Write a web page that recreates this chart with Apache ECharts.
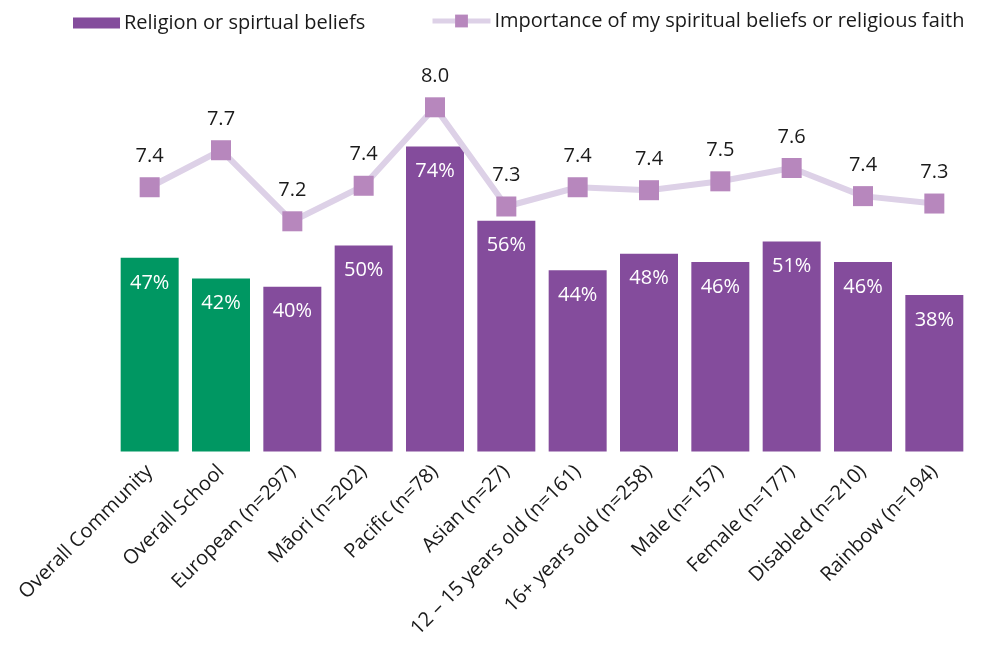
<!DOCTYPE html>
<html>
<head>
<meta charset="utf-8">
<script src="https://cdn.jsdelivr.net/npm/echarts@6/dist/echarts.min.js"></script>
<style>
  html, body { margin: 0; padding: 0; background: #ffffff; }
  #chart { width: 991px; height: 652px; }
</style>
</head>
<body>
<div id="chart"></div>
<script>
// Survey groups shown along the x axis
const categories = [
  'Overall Community', 'Overall School', 'European (n=297)', 'Māori (n=202)',
  'Pacific (n=78)', 'Asian (n=27)', '12 – 15 years old (n=161)', '16+ years old (n=258)',
  'Male (n=157)', 'Female (n=177)', 'Disabled (n=210)', 'Rainbow (n=194)'
];
// Share who named religion or spiritual beliefs (%)
const religionShare = [47, 42, 40, 50, 74, 56, 44, 48, 46, 51, 46, 38];
// Mean importance score (0–10 scale)
const importanceScore = [7.43, 7.68, 7.20, 7.44, 7.97, 7.30, 7.43, 7.41, 7.47, 7.56, 7.37, 7.32];

const barName = 'Religion or spirtual beliefs';
const lineName = 'Importance of my spiritual beliefs or religious faith';

const FONT = 'Open Sans';
const GREEN = '#009762';
const PURPLE = '#844C9C';
const LINE = '#DDD1E7';
const MARKER = '#B787BD';
const TEXT = '#1a1a1a';

const isOverall = (i) => categories[i].startsWith('Overall');

const chart = echarts.init(document.getElementById('chart'), null, { renderer: 'canvas' });

chart.setOption({
  animation: false,
  textStyle: { fontFamily: FONT },
  legend: [
    {
      data: [{ name: barName, icon: 'rect', itemStyle: { color: PURPLE } }],
      left: 73, top: 13, padding: 0,
      itemWidth: 47, itemHeight: 11, itemGap: 0,
      textStyle: { fontFamily: FONT, fontSize: 20, color: TEXT, padding: [0, 0, 0, -1] }
    },
    {
      data: [{ name: lineName, lineStyle: { width: 5, color: LINE }, itemStyle: { color: MARKER } }],
      left: 430, top: 11, padding: 0,
      itemWidth: 58, itemHeight: 16, itemGap: 0,
      lineStyle: { width: 5, color: LINE },
      textStyle: { fontFamily: FONT, fontSize: 20, color: TEXT, padding: [0, 0, 0, -1] }
    }
  ],
  grid: { left: 114, right: 21, top: 39.5, bottom: 200.5, containLabel: false },
  xAxis: {
    type: 'category',
    data: categories,
    axisLine: { show: false },
    axisTick: { show: false },
    axisLabel: {
      rotate: 45, interval: 0, margin: 17,
      fontFamily: FONT, fontSize: 20, color: TEXT
    }
  },
  yAxis: [
    { type: 'value', min: 0, max: 100, show: false, splitLine: { show: false } },
    { type: 'value', min: 5.645, max: 8.428, show: false, splitLine: { show: false } }
  ],
  series: [
    {
      name: barName,
      type: 'bar',
      yAxisIndex: 0,
      data: religionShare,
      barCategoryGap: '18.7%',
      itemStyle: {
        color: (p) => isOverall(p.dataIndex) ? GREEN : PURPLE
      },
      label: {
        show: true, position: 'insideTop', distance: 15,
        formatter: (p) => p.value + '%',
        color: '#ffffff', fontFamily: FONT, fontSize: 20
      },
      z: 2
    },
    {
      name: lineName,
      type: 'line',
      yAxisIndex: 1,
      data: importanceScore,
      symbol: 'rect', symbolSize: 20,
      lineStyle: { color: LINE, width: 6 },
      itemStyle: { color: MARKER },
      label: {
        show: true, position: 'top', distance: 11,
        formatter: (p) => p.value.toFixed(1),
        color: TEXT, fontFamily: FONT, fontSize: 20
      },
      z: 3
    }
  ]
});
</script>
</body>
</html>
